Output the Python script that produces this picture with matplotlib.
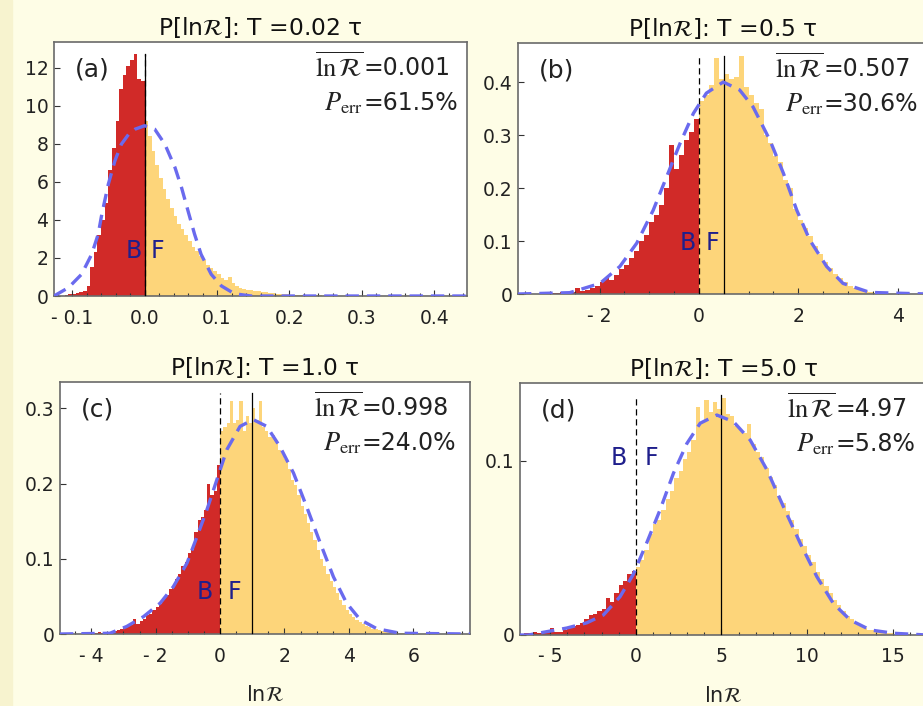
import numpy as np
import matplotlib
matplotlib.use('Agg')
import matplotlib.pyplot as plt
from matplotlib.ticker import MultipleLocator
from matplotlib.patches import Rectangle

plt.rcParams['mathtext.fontset'] = 'stix'
plt.rcParams['font.family'] = ['DejaVu Sans']

# ---- data ----
titles = ['0.02', '0.5', '1.0', '5.0']
labels = ['(a)', '(b)', '(c)', '(d)']
means = [0.001, 0.507, 0.998, 4.97]
mean_txt = ['0.001', '0.507', '0.998', '4.97']
perr_txt = ['61.5%', '30.6%', '24.0%', '5.8%']

# (a) T = 0.02 tau
a_bin = 0.005
a_red_start = -0.110
a_red = [0.05, 0.1, 0.1, 0.15, 0.2, 0.25, 0.5, 1.5, 2.3, 3.2, 4.0,
         4.9, 6.6, 7.8, 9.2, 10.9, 11.6, 12.1, 12.4, 12.7, 11.4, 11.3]
a_yel = [9.2, 8.4, 7.6, 6.9, 6.2, 5.6, 5.1, 4.6, 4.2, 3.8, 3.5, 3.2, 2.9,
         2.6, 2.35, 2.1, 1.9, 1.65, 1.45, 1.3, 1.15, 0.95, 0.85, 1.0, 0.7,
         0.5, 0.42, 0.36, 0.32, 0.3, 0.27, 0.24, 0.21, 0.19, 0.17, 0.14,
         0.12, 0.1, 0.09, 0.08, 0.07, 0.06, 0.05, 0.05, 0.04, 0.04, 0.03,
         0.03, 0.03, 0.02, 0.02, 0.02, 0.02, 0.01, 0.01, 0.01, 0.01]
a_cx = [-0.125, -0.121, -0.105, -0.087, -0.073, -0.064, -0.059, -0.050,
        -0.041, -0.032, -0.022, -0.013, 0.000, 0.014, 0.028, 0.042, 0.051,
        0.060, 0.069, 0.078, 0.092, 0.106, 0.124, 0.147, 0.445]
a_cy = [0.0, 0.09, 0.44, 1.14, 2.19, 3.25, 4.3, 5.88, 7.1, 7.98, 8.5,
        8.77, 8.95, 8.77, 7.98, 6.75, 5.7, 4.47, 3.25, 2.19, 1.14, 0.53,
        0.12, 0.0, 0.0]

# (b) T = 0.5 tau
b_bin = 0.1
b_red_start = -3.0
b_red = [0.002, 0.001, 0.003, 0.002, 0.004, 0.012, 0.006, 0.008, 0.012,
         0.016, 0.022, 0.030, 0.026, 0.036, 0.048, 0.055, 0.068, 0.082,
         0.100, 0.112, 0.135, 0.150, 0.168, 0.200, 0.282, 0.235, 0.262,
         0.290, 0.305, 0.330]
b_yel = [0.365, 0.375, 0.395, 0.445, 0.405, 0.415, 0.405, 0.41, 0.45,
         0.39, 0.375, 0.36, 0.35, 0.30, 0.285, 0.26, 0.25, 0.215, 0.20,
         0.16, 0.14, 0.125, 0.11, 0.09, 0.075, 0.06, 0.05, 0.038, 0.03,
         0.022, 0.016, 0.011, 0.008, 0.005, 0.004, 0.002]
b_cx = [-3.64, -2.6, -1.99, -1.59, -1.25, -0.92, -0.65, -0.38, -0.11, 0.15,
        0.49, 0.82, 1.09, 1.43, 1.70, 1.97, 2.23, 2.57, 2.90, 3.44, 4.6]
b_cy = [0.0, 0.0025, 0.02, 0.052, 0.096, 0.158, 0.221, 0.284, 0.341,
        0.379, 0.40, 0.385, 0.353, 0.29, 0.228, 0.158, 0.102, 0.052, 0.02,
        0.003, 0.0]

# (c) T = 1.0 tau
c_bin = 0.1
c_red_start = -4.0
c_red = [0.001, 0.001, 0.002, 0.001, 0.002, 0.002, 0.003, 0.004, 0.005,
         0.006, 0.008, 0.010, 0.012, 0.020, 0.013, 0.017, 0.020, 0.025,
         0.027, 0.032, 0.036, 0.040, 0.047, 0.052, 0.060, 0.064, 0.073,
         0.080, 0.090, 0.096, 0.108, 0.112, 0.135, 0.152, 0.155, 0.165,
         0.200, 0.185, 0.190, 0.225]
c_yel = [0.27, 0.275, 0.28, 0.31, 0.28, 0.285, 0.31, 0.27, 0.29, 0.28,
         0.30, 0.285, 0.31, 0.275, 0.27, 0.262, 0.265, 0.255, 0.245, 0.24,
         0.232, 0.22, 0.205, 0.198, 0.185, 0.17, 0.16, 0.148, 0.135, 0.125,
         0.112, 0.10, 0.09, 0.08, 0.07, 0.063, 0.055, 0.045, 0.038, 0.032,
         0.027, 0.023, 0.019, 0.016, 0.013, 0.011, 0.009, 0.007, 0.006,
         0.005, 0.004, 0.003, 0.003, 0.002, 0.002, 0.001, 0.001, 0.001,
         0.001, 0.001]
c_cx = [-4.97, -3.42, -2.9, -2.38, -1.86, -1.45, -1.03, -0.72, -0.41, -0.10,
        0.21, 0.62, 1.03, 1.45, 1.86, 2.28, 2.69, 3.11, 3.52, 3.93, 4.35,
        4.87, 5.59, 7.76]
c_cy = [0.0, 0.001, 0.01, 0.023, 0.041, 0.063, 0.094, 0.129, 0.165, 0.205,
        0.245, 0.276, 0.285, 0.276, 0.249, 0.214, 0.169, 0.121, 0.076,
        0.041, 0.019, 0.007, 0.001, 0.0]

# (d) T = 5.0 tau
d_bin = 0.25
d_red_start = -6.5
d_red = [0.001, 0.001, 0.002, 0.001, 0.002, 0.002, 0.004, 0.002, 0.002,
         0.003, 0.004, 0.005, 0.006, 0.007, 0.009, 0.0115, 0.012, 0.014,
         0.015, 0.021, 0.019, 0.024, 0.029, 0.031, 0.035, 0.037]
d_yel = [0.039, 0.043, 0.049, 0.058, 0.064, 0.066, 0.072, 0.078, 0.083,
         0.090, 0.094, 0.101, 0.105, 0.112, 0.131, 0.122, 0.135, 0.128,
         0.134, 0.130, 0.136, 0.127, 0.126, 0.120, 0.118, 0.116, 0.121,
         0.110, 0.105, 0.102, 0.096, 0.091, 0.086, 0.080, 0.076, 0.071,
         0.066, 0.061, 0.055, 0.051, 0.046, 0.042, 0.036, 0.032, 0.028,
         0.024, 0.020, 0.017, 0.014, 0.011, 0.009, 0.007, 0.005, 0.004,
         0.003, 0.003, 0.002, 0.002, 0.001, 0.001]
d_cx = [-6.76, -6.27, -4.03, -2.86, -1.89, -0.92, -0.14, 0.64, 1.42, 2.2,
        2.98, 3.76, 4.73, 5.7, 6.68, 7.65, 8.62, 9.6, 10.57, 11.54, 12.52,
        13.69, 15.05, 17.0]
d_cy = [0.0, 0.0, 0.004, 0.007, 0.0115, 0.022, 0.035, 0.053, 0.072, 0.093,
        0.110, 0.1217, 0.1264, 0.1226, 0.112, 0.095, 0.0737, 0.0527,
        0.0335, 0.018, 0.0086, 0.0029, 0.001, 0.0]

# tick labels
xt_vals = [[-0.1, 0.0, 0.1, 0.2, 0.3, 0.4], [-2, 0, 2, 4],
           [-4, -2, 0, 2, 4, 6], [-5, 0, 5, 10, 15]]
xt_lbls = [['- 0.1', '0.0', '0.1', '0.2', '0.3', '0.4'], ['- 2', '0', '2', '4'],
           ['- 4', '- 2', '0', '2', '4', '6'], ['- 5', '0', '5', '10', '15']]
yt_vals = [[0, 2, 4, 6, 8, 10, 12], [0, 0.1, 0.2, 0.3, 0.4],
           [0, 0.1, 0.2, 0.3], [0, 0.1]]
yt_lbls = [['0', '2', '4', '6', '8', '10', '12'], ['0', '0.1', '0.2', '0.3', '0.4'],
           ['0', '0.1', '0.2', '0.3'], ['0', '0.1']]
bf_y = [2.37, 0.096, 0.056, 0.1017]

# ---- layout / style ----
W, H = 923, 706
xlims = [(-0.125, 0.445), (-3.64, 4.6), (-4.97, 7.76), (-6.76, 17.0)]
ylims = [(0, 13.35), (0, 0.4736), (0, 0.335), (0, 0.1448)]
boxes = [(54, 42, 413, 254), (518, 43, 409.5, 251), (60, 382, 410, 252), (520, 383, 407, 252)]
minor = [0.02, 0.5, 0.5, 1.0]
vtop = [12.7, 0.45, 0.32, 0.138]
eq_px = [104, 104, 108, 92]
bgap = [3, 3, 7, 9]
fgap = [6, 7, 8, 9]

RED = '#d12a28'
YEL = '#fdd57a'
BLUE = '#6a6aee'
NAVY = '#1f1f8c'
px = 0.72  # points per pixel

fig = plt.figure(figsize=(W / 100, H / 100), dpi=100, facecolor='#fefde6')
fig.patches.append(Rectangle((0, 0), 12 / W, 1, transform=fig.transFigure,
                             color='#f7f3cf', zorder=-1))

hist = [(a_bin, a_red_start, a_red, a_yel, a_cx, a_cy),
        (b_bin, b_red_start, b_red, b_yel, b_cx, b_cy),
        (c_bin, c_red_start, c_red, c_yel, c_cx, c_cy),
        (d_bin, d_red_start, d_red, d_yel, d_cx, d_cy)]

for i in range(4):
    l, t, w, h = boxes[i]
    ax = fig.add_axes([l / W, 1 - (t + h) / H, w / W, h / H])
    ax.set_facecolor('white')
    b, r0, red, yel, cx, cy = hist[i]
    red_edges = r0 + b * np.arange(len(red) + 1)
    yel_edges = b * np.arange(len(yel) + 1)
    ax.stairs(red, red_edges, fill=True, color=RED, lw=0, zorder=1)
    ax.stairs(yel, yel_edges, fill=True, color=YEL, lw=0, zorder=1)
    ax.plot([0, 0], [0, vtop[i]], color='black', lw=0.9, dashes=(5, 3), zorder=3)
    ax.plot([means[i], means[i]], [0, vtop[i]], color='black', lw=0.9, zorder=3)
    ax.plot(cx, cy, color=BLUE, lw=2.4, dashes=(4, 2.4), zorder=4)

    ax.set_xlim(*xlims[i])
    ax.set_ylim(*ylims[i])
    ax.set_xticks(xt_vals[i])
    ax.set_xticklabels(xt_lbls[i])
    ax.set_yticks(yt_vals[i])
    ax.set_yticklabels(yt_lbls[i])
    ax.xaxis.set_minor_locator(MultipleLocator(minor[i]))
    ax.tick_params(axis='both', which='both', direction='in', color='#333333',
                   labelsize=13.5, labelcolor='#222222', width=0.8)
    ax.tick_params(axis='both', which='major', length=4.5)
    ax.tick_params(axis='x', which='minor', length=2.5)
    ax.tick_params(axis='x', pad=9)
    ax.tick_params(axis='y', pad=4)
    for s in ax.spines.values():
        s.set_color('#6a6a6a')
        s.set_linewidth(1.2)

    ax.set_title('P[ln$\\mathcal{R}$]: T =' + titles[i] + ' τ', fontsize=16.8, pad=5,
                 color='#111111')
    ax.annotate(labels[i], xy=(0, 1), xycoords='axes fraction',
                xytext=(15, -20), textcoords='offset points',
                ha='left', va='center', fontsize=18, color='#222222')

    ex = -eq_px[i] * px
    ax.annotate('$\\overline{\\mathrm{ln}\\,\\mathcal{R}}$', xy=(1, 1), xycoords='axes fraction',
                xytext=(ex, -19), textcoords='offset points',
                ha='right', va='center', fontsize=19, color='#222222')
    ax.annotate('=' + mean_txt[i], xy=(1, 1), xycoords='axes fraction',
                xytext=(ex, -19), textcoords='offset points',
                ha='left', va='center', fontsize=17, color='#222222')
    ax.annotate('$P_{\\mathrm{err}}$', xy=(1, 1), xycoords='axes fraction',
                xytext=(ex, -44), textcoords='offset points',
                ha='right', va='center', fontsize=19, color='#222222')
    ax.annotate('=' + perr_txt[i], xy=(1, 1), xycoords='axes fraction',
                xytext=(ex, -44), textcoords='offset points',
                ha='left', va='center', fontsize=17, color='#222222')

    ax.annotate('B', xy=(0, bf_y[i]), xycoords='data',
                xytext=(-bgap[i] * px, 0), textcoords='offset points',
                ha='right', va='center', fontsize=17, color=NAVY, zorder=5)
    ax.annotate('F', xy=(0, bf_y[i]), xycoords='data',
                xytext=(fgap[i] * px, 0), textcoords='offset points',
                ha='left', va='center', fontsize=17, color=NAVY, zorder=5)

    if i >= 2:
        ax.set_xlabel('ln$\\mathcal{R}$', fontsize=15, labelpad=14, color='#222222')

fig.savefig('out.png', dpi=100, facecolor=fig.get_facecolor())
